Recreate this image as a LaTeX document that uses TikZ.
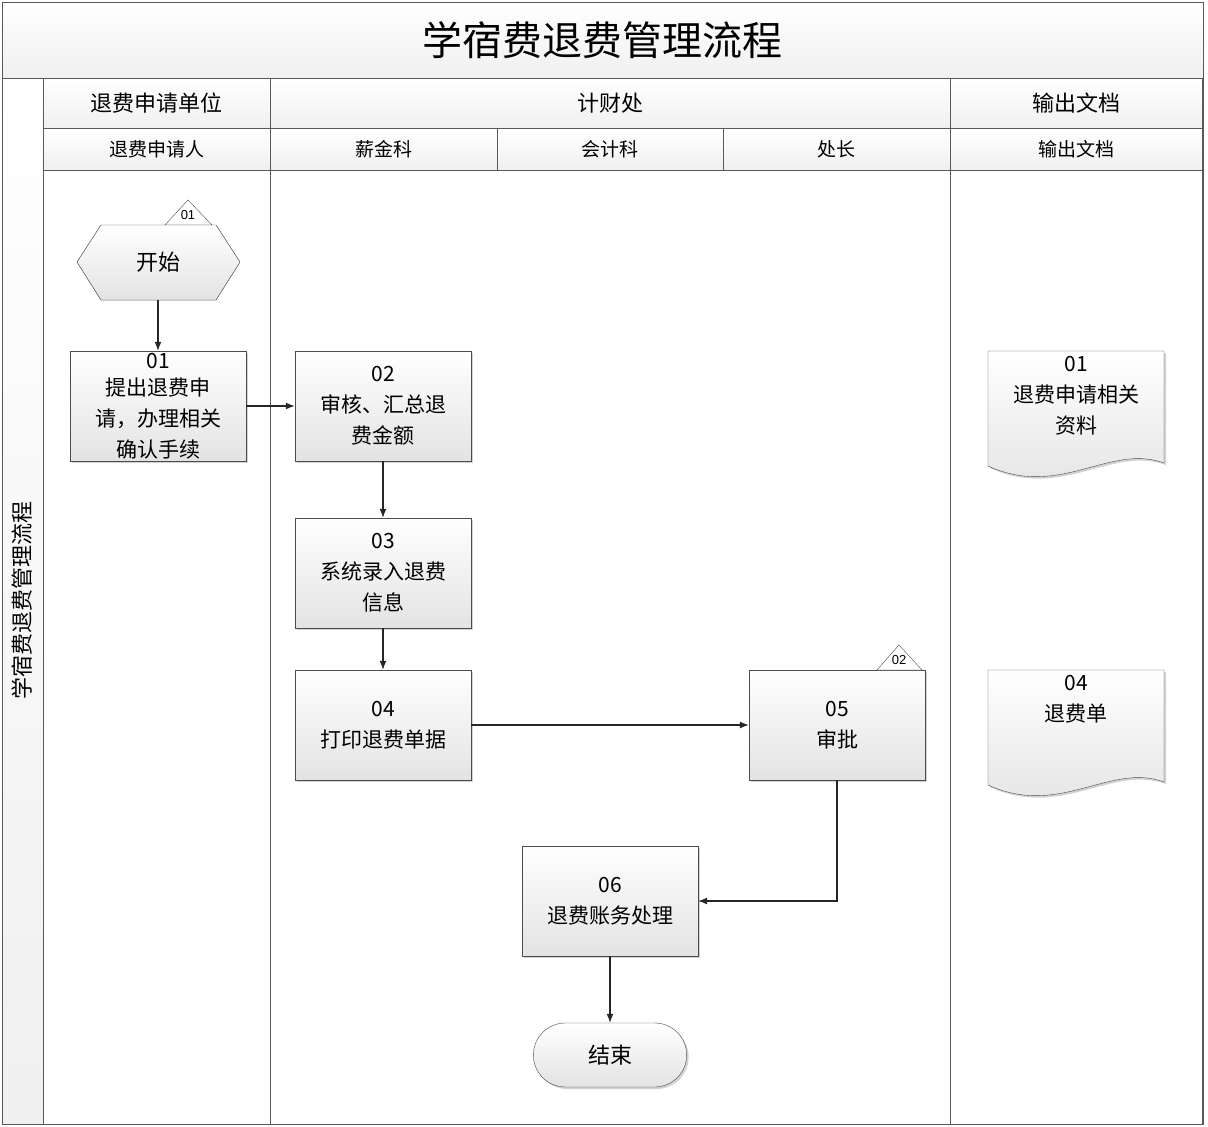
\documentclass[tikz,border=0pt]{standalone}
\usepackage{fontspec}
\setmainfont{Liberation Sans}
\newfontfamily\cjk{Noto Sans CJK SC}
\usetikzlibrary{shapes.geometric,shapes.misc,shadows,arrows.meta}
\begin{document}
\begin{tikzpicture}[x=1pt,y=-1pt,
  hdr/.style={draw=gray!70!black,top color=white,bottom color=gray!12,inner sep=0pt},
  proc/.style={draw=gray!60!black,top color=white,bottom color=gray!22,minimum width=176pt,minimum height=110pt,text width=160pt,align=center,font=\cjk\fontsize{21}{31}\selectfont,drop shadow={shadow xshift=2pt,shadow yshift=-2pt,opacity=.35},inner sep=2pt},
  conn/.style={draw=gray!30!black,line width=1.2pt,-{Latex[length=9pt,width=7pt]}},
  tag/.style={draw=gray!60!black,fill=white}]
\useasboundingbox (0,0) rectangle (1208,1127);
\fill[white] (0,0) rectangle (1208,1127);
% title
\node[hdr,minimum width=1201pt,minimum height=76pt,anchor=north west,font=\cjk\fontsize{40}{44}\selectfont] (title) at (2,2) {学宿费退费管理流程};
\node[hdr,minimum width=41pt,minimum height=1046pt,anchor=north west] (side) at (2,78) {};
\node[rotate=90,font=\cjk\fontsize{22}{24}\selectfont] (sidet) at (22,600) {学宿费退费管理流程};
% headers
\foreach \n/\a/\b/\t in {h1/43/270/退费申请单位,h2/270/950/计财处,h3/950/1202/输出文档}{
  \node[hdr,minimum width=\b pt-\a pt,minimum height=50pt,anchor=north west,font=\cjk\fontsize{22}{24}\selectfont] (\n) at (\a,78) {\t};}
\foreach \n/\a/\b/\t in {s1/43/270/退费申请人,s2/270/497/薪金科,s3/497/723/会计科,s4/723/950/处长,s5/950/1202/输出文档}{
  \node[hdr,minimum width=\b pt-\a pt,minimum height=42pt,anchor=north west,font=\cjk\fontsize{19}{22}\selectfont] (\n) at (\a,128) {\t};}
\draw[gray!70!black] (43,170) rectangle (1202,1124) (270,170) -- (270,1124) (950,170) -- (950,1124);
\draw[gray!70!black] (2,2) rectangle (1203,1124);
% start
\draw[tag] (165,225) -- (188,200) -- (212,225) -- cycle;
\node[font=\fontsize{13}{14}\selectfont] (t1) at (188,215) {01};
\fill[top color=white,bottom color=gray!22,draw=gray!60!black] (77,262) -- (101,225) -- (216,225) -- (240,262) -- (216,300) -- (101,300) -- cycle;
\node[font=\cjk\fontsize{22}{24}\selectfont,minimum width=163pt,minimum height=75pt] (start) at (158,262) {开始};
\node[proc] (b1) at (158,406) {01\\[-4pt]提出退费申\\请，办理相关\\确认手续};
\node[proc] (b2) at (383,406) {02\\审核、汇总退\\费金额};
\node[proc] (b3) at (383,573) {03\\系统录入退费\\信息};
\node[proc] (b4) at (383,725) {04\\打印退费单据};
\node[proc] (b5) at (837,725) {05\\审批};
\draw[tag] (877,670) -- (899,645) -- (922,670) -- cycle;
\node[font=\fontsize{13}{14}\selectfont] (t2) at (899,660) {02};
\node[proc] (b6) at (610,901) {06\\退费账务处理};
\node[draw=gray!60!black,top color=white,bottom color=gray!22,rounded rectangle,minimum width=160pt,minimum height=64pt,font=\cjk\fontsize{22}{24}\selectfont,drop shadow={shadow xshift=2pt,shadow yshift=-2pt,opacity=.35}] (end) at (610,1055) {结束};
% documents
\foreach \n/\y/\t in {d1/351/{01\\退费申请相关\\资料},d4/670/{04\\退费单}}{
  \draw[gray!60!black,top color=white,bottom color=gray!22,drop shadow={shadow xshift=2pt,shadow yshift=-2pt,opacity=.35}] (988,\y) -- (1164,\y) -- (1164,\y+112) .. controls (1110,\y+92) and (1060,\y+148) .. (988,\y+115) -- cycle;
  \node[align=center,font=\cjk\fontsize{21}{31}\selectfont,anchor=north] (\n) at (1076,\y+2) {\t};}
% connectors
\draw[conn] (start.south) -- (b1.north);
\draw[conn] (b1.east) -- (b2.west);
\draw[conn] (b2.south) -- (b3.north);
\draw[conn] (b3.south) -- (b4.north);
\draw[conn] (b4.east) -- (b5.west);
\draw[conn] (b5.south) |- (b6.east);
\draw[conn] (b6.south) -- (end.north);
\end{tikzpicture}
\end{document}
